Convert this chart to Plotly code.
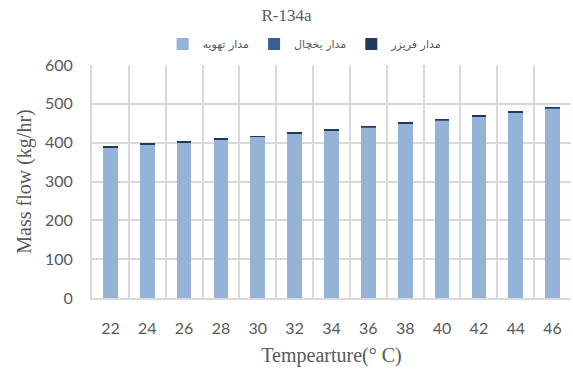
import plotly.graph_objects as go

temps = ["22", "24", "26", "28", "30", "32", "34", "36", "38", "40", "42", "44", "46"]
ventilation = [387, 395, 400, 408, 415, 423, 431, 440, 449, 458, 467, 477, 489]
fridge = [1, 1, 1, 1, 1, 1, 1, 1, 1, 1, 1, 1, 1]
freezer = [1, 1, 1, 1, 1, 1, 1, 1, 1, 1, 1, 1, 1]

names = ["مدار تهویه", "مدار یخچال", "مدار فریزر"]
colors = ["#95B3D7", "#376092", "#1F3A60"]

fig = go.Figure()
for name, vals, col in zip(names, [ventilation, fridge, freezer], colors):
    fig.add_trace(go.Bar(x=temps, y=vals, name=name, marker=dict(color=col, line=dict(width=0))))

gray = "#595959"
grid = "#D9D9D9"
fig.update_layout(
    width=573, height=378,
    barmode="stack", bargap=0.6,
    plot_bgcolor="white", paper_bgcolor="white",
    margin=dict(l=92, r=2, t=65, b=80),
    title=dict(text="R-134a", x=0.5, xanchor="center", y=0.975, yanchor="top",
               font=dict(family="Liberation Serif", size=17, color=gray)),
    legend=dict(orientation="h", x=0.445, xanchor="center", y=1.09, yanchor="middle",
                font=dict(family="DejaVu Sans", size=11, color=gray),
                itemwidth=30, tracegroupgap=0, traceorder="normal"),
    showlegend=True,
)
fig.update_xaxes(
    type="category", tickson="boundaries", showgrid=True, gridcolor=grid, gridwidth=2,
    showline=True, linecolor=grid, linewidth=2, ticks="", ticklabelstandoff=15,
    tickfont=dict(family="Lato", size=16, color=gray),
    title=dict(text="Tempearture(° C)", standoff=12,
               font=dict(family="Liberation Serif", size=20, color=gray)),
)
fig.update_yaxes(
    range=[0, 600], dtick=100, showgrid=True, gridcolor=grid, gridwidth=2,
    showline=True, linecolor=grid, linewidth=2, ticks="", ticklabelstandoff=14,
    zeroline=False,
    tickfont=dict(family="Lato", size=16, color=gray),
    title=dict(text="Mass flow (kg/hr)", standoff=8,
               font=dict(family="Liberation Serif", size=20, color=gray)),
)
fig.write_html("out.html")
